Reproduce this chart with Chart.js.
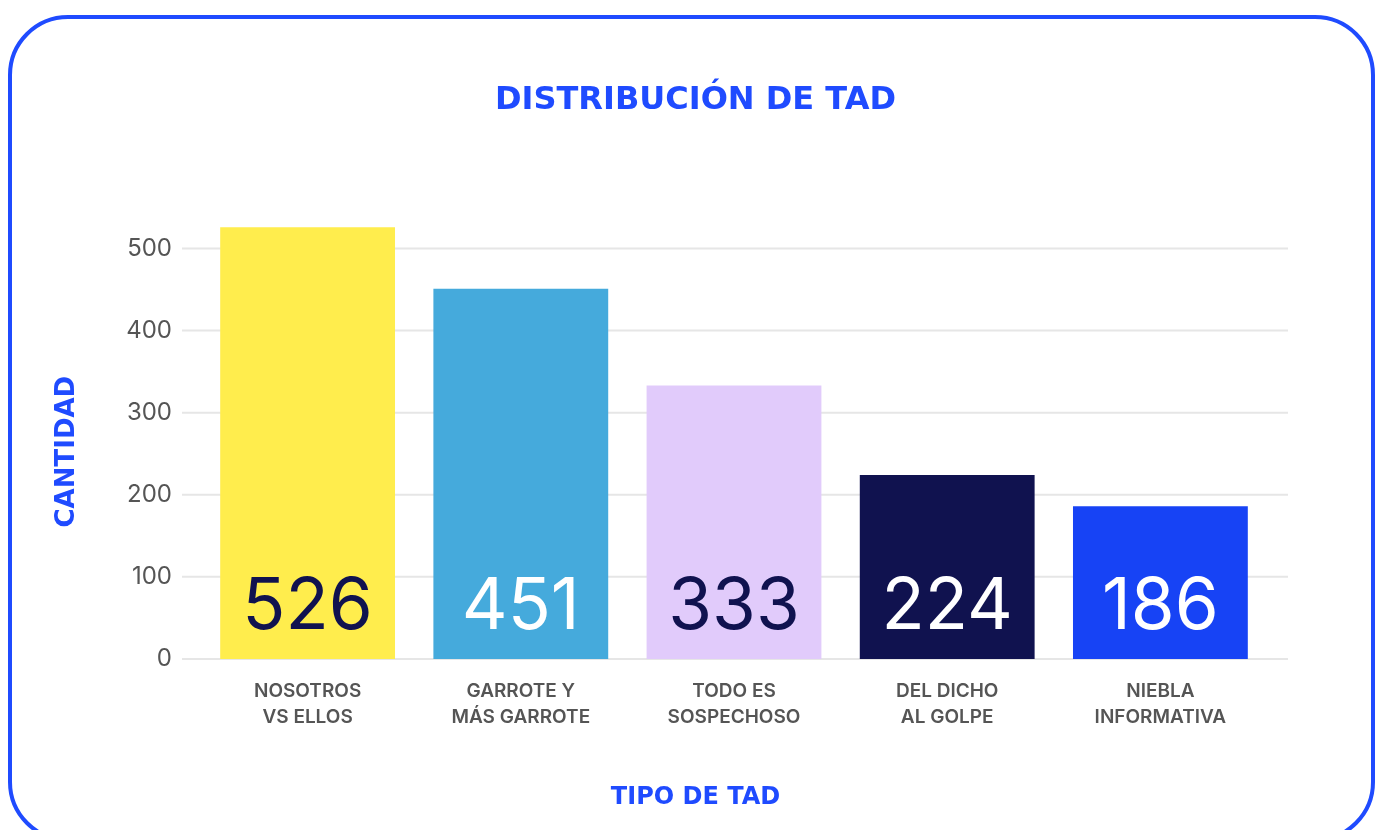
<!DOCTYPE html>
<html>
<head>
<meta charset="utf-8">
<script src="https://cdn.jsdelivr.net/npm/chart.js@4.4.1/dist/chart.umd.min.js"></script>
<style>
  html, body { margin: 0; padding: 0; background: #fff; overflow: hidden; }
  #wrap { position: relative; width: 1375px; height: 830px; }
  #card {
    position: absolute; left: 8px; top: 15px; width: 1367px; height: 827px;
    box-sizing: border-box; border: 4px solid #1f4bff; border-radius: 60px;
  }
  #chart { position: absolute; left: 0; top: 0; }
</style>
</head>
<body>
<div id="wrap">
  <div id="card"></div>
  <canvas id="chart" width="1375" height="830"></canvas>
</div>
<script>
// data
const categories = [
  ['NOSOTROS', 'VS ELLOS'],
  ['GARROTE Y', 'MÁS GARROTE'],
  ['TODO ES', 'SOSPECHOSO'],
  ['DEL DICHO', 'AL GOLPE'],
  ['NIEBLA', 'INFORMATIVA']
];
const values = [526, 451, 333, 224, 186];
const yTicks = [0, 100, 200, 300, 400, 500];

const barColors = ['#ffed4d', '#45aadc', '#e1cbfb', '#10124f', '#1743f5'];
const numberColors = ['#10124f', '#ffffff', '#10124f', '#ffffff', '#ffffff'];

const blue = '#1f4bff';
const gray = '#555555';
const font = 'Inter, "Noto Sans", sans-serif';
const headFont = '"DejaVu Sans", Inter, sans-serif';

// light grid lines that run a bit past the plot area on both sides
const gridLines = {
  id: 'gridLines',
  beforeDatasetsDraw(chart) {
    const ctx = chart.ctx, area = chart.chartArea, y = chart.scales.y;
    ctx.save();
    ctx.strokeStyle = '#e6e6e6';
    ctx.lineWidth = 2;
    y.ticks.forEach(t => {
      const py = y.getPixelForValue(t.value);
      ctx.beginPath();
      ctx.moveTo(area.left - 19, py);
      ctx.lineTo(area.right + 21, py);
      ctx.stroke();
    });
    ctx.restore();
  }
};

// big numbers near the bottom of each bar
const barNumbers = {
  id: 'barNumbers',
  afterDatasetsDraw(chart) {
    const ctx = chart.ctx;
    const meta = chart.getDatasetMeta(0);
    ctx.save();
    ctx.font = '400 71px ' + font;
    ctx.textAlign = 'center';
    ctx.textBaseline = 'middle';
    meta.data.forEach((bar, i) => {
      ctx.fillStyle = numberColors[i];
      ctx.fillText(String(values[i]), bar.x, bar.base - 51);
    });
    ctx.restore();
  }
};

const ctx = document.getElementById('chart').getContext('2d');
new Chart(ctx, {
  type: 'bar',
  data: {
    labels: categories,
    datasets: [{
      data: values,
      backgroundColor: barColors,
      borderWidth: 0,
      barPercentage: 0.82,
      categoryPercentage: 1,
      clip: false
    }]
  },
  options: {
    responsive: false,
    animation: false,
    layout: { padding: { left: 16, right: 0, top: 0, bottom: 0 } },
    plugins: {
      legend: { display: false },
      tooltip: { enabled: false },
      title: {
        display: true,
        text: 'DISTRIBUCIÓN DE TAD',
        color: blue,
        font: { family: headFont, size: 32, weight: 'bold' },
        padding: { top: 81, bottom: 125 }
      },
      subtitle: {
        display: true,
        position: 'bottom',
        text: 'TIPO DE TAD',
        color: blue,
        font: { family: headFont, size: 24, weight: 'bold' },
        padding: { top: 33, bottom: 18 }
      }
    },
    scales: {
      x: {
        grid: { display: false, drawTicks: false },
        border: { display: false },
        ticks: {
          color: gray,
          padding: 20,
          font: { family: font, size: 19, weight: '600', lineHeight: 1.35 }
        }
      },
      y: {
        min: 0,
        max: 505,
        afterBuildTicks(scale) {
          scale.ticks = yTicks.map(v => ({ value: v }));
        },
        afterFit(scale) { scale.width = 185; },
        grid: { display: false, drawTicks: false },
        border: { display: false },
        ticks: {
          color: gray,
          padding: 29,
          font: { family: font, size: 24, weight: '400' }
        },
        title: {
          display: true,
          text: 'CANTIDAD',
          color: blue,
          font: { family: headFont, size: 26, weight: 'bold' },
          padding: { top: 36, bottom: 0 }
        }
      },
      // empty axis on the right only to reserve space, so titles stay centred on the card
      pad: {
        position: 'right',
        afterFit(scale) { scale.width = 108; },
        grid: { display: false, drawTicks: false },
        border: { display: false },
        ticks: { display: false }
      }
    }
  },
  plugins: [gridLines, barNumbers]
});
</script>
</body>
</html>
